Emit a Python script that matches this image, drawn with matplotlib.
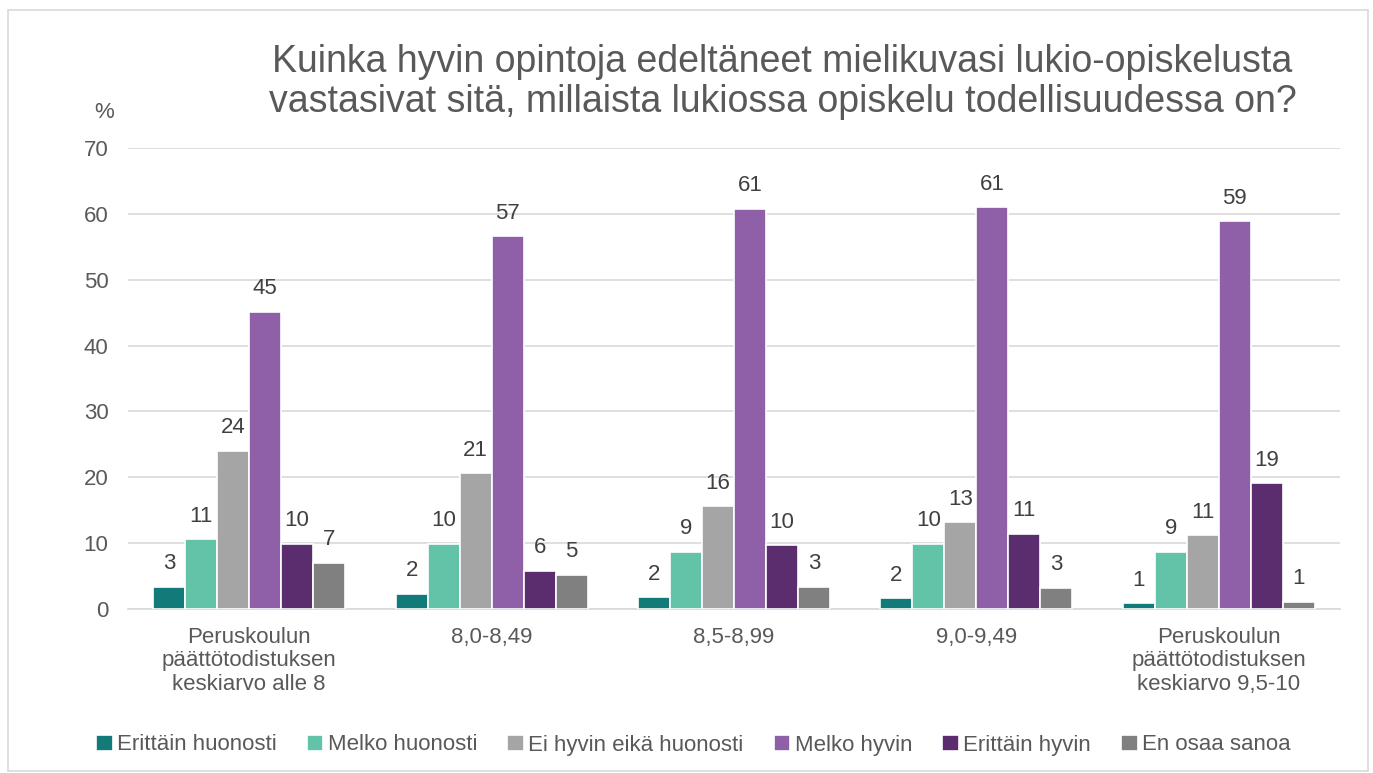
import numpy as np
import matplotlib.pyplot as plt
from matplotlib.patches import Rectangle

plt.rcParams['font.family'] = ['Liberation Sans', 'DejaVu Sans']

categories = ['Peruskoulun\npäättötodistuksen\nkeskiarvo alle 8', '8,0-8,49', '8,5-8,99',
              '9,0-9,49', 'Peruskoulun\npäättötodistuksen\nkeskiarvo 9,5-10']
series = ['Erittäin huonosti', 'Melko huonosti', 'Ei hyvin eikä huonosti',
          'Melko hyvin', 'Erittäin hyvin', 'En osaa sanoa']
erittain_huonosti = [3.4, 2.3, 1.8, 1.6, 0.9]
melko_huonosti = [10.6, 9.9, 8.7, 9.9, 8.7]
ei_hyvin_eika = [24.0, 20.6, 15.6, 13.2, 11.2]
melko_hyvin = [45.1, 56.6, 60.8, 61.0, 58.9]
erittain_hyvin = [9.9, 5.8, 9.7, 11.4, 19.1]
en_osaa = [7.0, 5.2, 3.4, 3.2, 1.1]
values = [erittain_huonosti, melko_huonosti, ei_hyvin_eika, melko_hyvin, erittain_hyvin, en_osaa]
colors = ['#127B7A', '#62C3A8', '#A5A5A5', '#8F5FA8', '#5C2D6E', '#808080']

txt = '#595959'
fs = 16
fig = plt.figure(figsize=(13.73, 7.73), dpi=100)
ax = fig.add_axes([0.0932, 0.2122, 0.8828, 0.5963])

x = np.arange(len(categories))
w = 0.132
for i, (name, vals, c) in enumerate(zip(series, values, colors)):
    pos = x + (i - 2.5) * w
    bars = ax.bar(pos, vals, w, color=c, edgecolor='white', linewidth=1.2, label=name, zorder=3)
    for b, v in zip(bars, vals):
        ax.text(b.get_x() + b.get_width() / 2, v + 1.9, f'{v:.0f}', ha='center', va='bottom',
                fontsize=fs, color='#404040')

ax.set_xlim(-0.5, len(categories) - 0.5)
ax.set_ylim(0, 70)
ax.set_yticks(range(0, 71, 10))
ax.yaxis.grid(True, color='#D9D9D9', linewidth=1.2, zorder=0)
for s in ['top', 'right', 'left']:
    ax.spines[s].set_visible(False)
ax.spines['bottom'].set_color('#D9D9D9')
ax.spines['bottom'].set_linewidth(1.2)
ax.tick_params(axis='both', length=0, labelsize=fs, colors=txt)
ax.tick_params(axis='y', pad=14)
ax.tick_params(axis='x', pad=13)
ax.set_xticks(x)
ax.set_xticklabels(categories, linespacing=1.15)

fig.text(0.0757, 1 - 112 / 773, '%', ha='center', va='center', fontsize=fs, color=txt)
fig.text(0.570, 1 - 82 / 773,
         'Kuinka hyvin opintoja edeltäneet mielikuvasi lukio-opiskelusta\n'
         'vastasivat sitä, millaista lukiossa opiskelu todellisuudessa on?',
         ha='center', va='center', fontsize=27, color=txt, linespacing=1.15)

fig.legend(loc='center', bbox_to_anchor=(0.505, 1 - 745 / 773), ncol=6, frameon=False,
           fontsize=fs, handlelength=0.75, handleheight=0.75, handletextpad=0.2,
           columnspacing=1.35, labelcolor=txt)

fig.patches.append(Rectangle((8 / 1373, 0.003), 1360 / 1373, 1 - 10 / 773 - 0.003,
                             transform=fig.transFigure, fill=False, edgecolor='#D9D9D9',
                             linewidth=1.2))

fig.savefig('out.png', dpi=100)
